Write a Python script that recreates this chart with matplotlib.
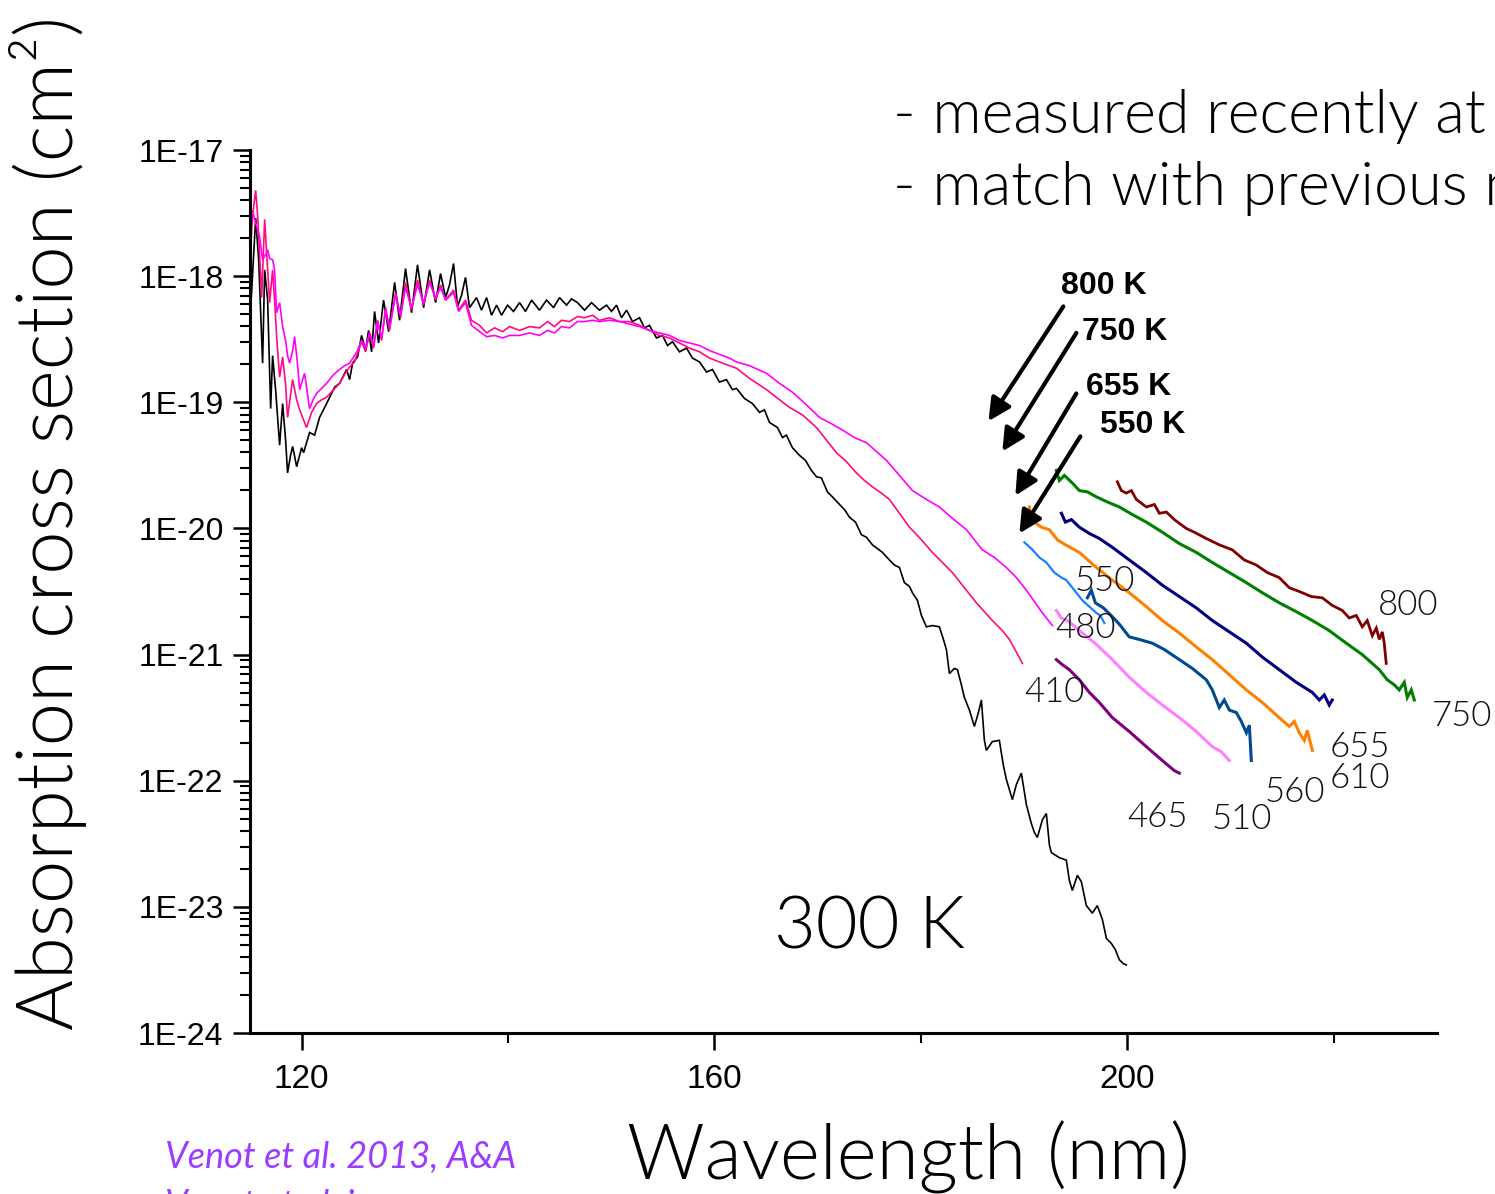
import numpy as np
import matplotlib
matplotlib.use('Agg')
import matplotlib.pyplot as plt
from matplotlib.ticker import LogLocator, FuncFormatter, NullFormatter

# (wavelength nm, log10 cross section cm^2) for each temperature
pts_300 = [(115.06,-18.27),(115.55,-17.54),(115.84,-17.87),(116.22,-18.69),(116.42,-17.95),(116.71,-18.19),
    (117.00,-19.05),(117.19,-18.63),(117.48,-18.90),(117.87,-19.34),(118.16,-19.01),(118.45,-19.30),(118.64,-19.56),
    (118.93,-19.42),(119.13,-19.35),(119.52,-19.51),(120.00,-19.36),(120.19,-19.40),(120.77,-19.24),(121.26,-19.26),
    (121.74,-19.12),(122.42,-19.01),(123.20,-18.88),(123.68,-18.85),(124.36,-18.74),(124.65,-18.82),(124.94,-18.69),
    (125.42,-18.64),(125.81,-18.47),(126.20,-18.59),(126.49,-18.43),(126.78,-18.60),(127.07,-18.28),(127.46,-18.53),
    (127.94,-18.19),(128.43,-18.44),(129.01,-18.05),(129.49,-18.35),(130.07,-17.94),(130.65,-18.29),(131.23,-17.91),
    (131.82,-18.25),(132.40,-17.95),(132.98,-18.21),(133.46,-17.98),(133.95,-18.17),(134.33,-18.07),(134.72,-17.90),
    (135.11,-18.24),(135.50,-18.15),(135.88,-18.01),(136.27,-18.25),(136.95,-18.17),(137.43,-18.27),(137.92,-18.17),
    (138.40,-18.31),(138.89,-18.23),(139.37,-18.31),(139.95,-18.23),(140.53,-18.28),(141.11,-18.21),(141.69,-18.28),
    (142.28,-18.19),(143.05,-18.27),(143.73,-18.19),(144.41,-18.25),(144.99,-18.17),(145.67,-18.23),(146.15,-18.18),
    (146.73,-18.21),(147.41,-18.27),(148.09,-18.21),(148.86,-18.27),(149.54,-18.23),(150.02,-18.28),(150.51,-18.23),
    (150.99,-18.33),(151.48,-18.27),(152.06,-18.36),(152.74,-18.33),(153.22,-18.41),(153.70,-18.39),(154.38,-18.49),
    (154.96,-18.47),(155.45,-18.55),(155.93,-18.52),(156.61,-18.60),(157.29,-18.57),(157.87,-18.65),(158.55,-18.68),
    (159.23,-18.76),(159.81,-18.74),(160.48,-18.84),(161.16,-18.82),(161.74,-18.90),(162.13,-18.89),(162.91,-18.97),
    (163.68,-19.01),(164.36,-19.08),(164.84,-19.06),(165.33,-19.16),(166.10,-19.20),(166.59,-19.28),(166.97,-19.26),
    (167.55,-19.36),(168.23,-19.42),(168.81,-19.46),(169.39,-19.54),(169.88,-19.59),(170.36,-19.60),(170.94,-19.71),
    (171.43,-19.75),(172.11,-19.81),(172.59,-19.85),(173.07,-19.91),(173.66,-19.95),(174.24,-20.05),(174.72,-20.07),
    (175.30,-20.13),(175.79,-20.16),(176.27,-20.19),(176.95,-20.25),(177.43,-20.29),(177.92,-20.31),(178.40,-20.43),
    (178.89,-20.46),(179.18,-20.51),(179.66,-20.57),(180.05,-20.69),(180.53,-20.78),(181.11,-20.77),(181.79,-20.78),
    (182.18,-20.88),(182.47,-20.96),(182.76,-21.15),(183.24,-21.11),(183.54,-21.12),(183.92,-21.24),(184.21,-21.34),
    (184.70,-21.44),(185.18,-21.57),(185.57,-21.46),(185.86,-21.36),(186.15,-21.68),(186.34,-21.76),(186.92,-21.69),
    (187.60,-21.68),(187.99,-21.88),(188.28,-21.99),(188.86,-22.15),(189.25,-22.03),(189.73,-21.94),(190.22,-22.19),
    (190.70,-22.34),(190.99,-22.41),(191.28,-22.45),(191.77,-22.31),(192.15,-22.26),(192.45,-22.51),(192.64,-22.57),
    (193.41,-22.61),(194.09,-22.63),(194.38,-22.79),(194.67,-22.87),(195.16,-22.75),(195.54,-22.80),(196.03,-22.99),
    (196.61,-23.05),(197.09,-22.99),(197.58,-23.10),(197.97,-23.25),(198.45,-23.29),(198.84,-23.34),(199.23,-23.42),
    (199.61,-23.45),(199.90,-23.46)]

pts_410 = [(115.06,-17.79),(115.25,-17.52),(115.55,-17.32),(115.74,-17.52),(115.93,-17.82),(116.13,-18.17),
    (116.42,-17.55),(116.71,-17.95),(116.90,-18.21),(117.19,-17.95),(117.38,-18.19),(117.58,-18.48),(117.87,-18.80),
    (118.16,-18.64),(118.45,-18.86),(118.64,-19.12),(118.93,-18.94),(119.13,-18.82),(119.52,-18.98),(119.81,-19.06),
    (120.19,-19.14),(120.48,-19.20),(120.97,-19.08),(121.45,-19.01),(121.94,-18.98),(122.42,-18.96),(123.10,-18.90),
    (123.68,-18.85),(124.16,-18.78),(124.65,-18.72),(125.13,-18.68),(125.42,-18.61),(125.81,-18.52),(126.20,-18.60),
    (126.59,-18.45),(126.97,-18.57),(127.36,-18.35),(127.75,-18.51),(128.14,-18.25),(128.52,-18.43),(129.10,-18.13),
    (129.59,-18.33),(130.07,-18.05),(130.65,-18.27),(131.23,-18.03),(131.82,-18.23),(132.40,-18.03),(132.98,-18.19),
    (133.46,-18.07),(133.95,-18.19),(134.72,-18.11),(135.21,-18.27),(135.88,-18.19),(136.46,-18.35),(137.24,-18.39),
    (137.92,-18.45),(138.69,-18.41),(139.47,-18.44),(140.15,-18.40),(141.11,-18.43),(142.08,-18.40),(143.05,-18.41),
    (143.83,-18.36),(144.50,-18.40),(145.18,-18.35),(145.96,-18.36),(146.73,-18.32),(147.41,-18.33),(148.18,-18.31),
    (148.86,-18.35),(149.83,-18.33),(150.80,-18.36),(151.77,-18.36),(152.74,-18.39),(153.70,-18.43),(154.67,-18.47),
    (155.64,-18.49),(156.61,-18.53),(157.58,-18.57),(158.55,-18.60),(159.52,-18.65),(160.48,-18.68),(161.45,-18.71),
    (162.13,-18.73),(163.39,-18.81),(165.04,-18.90),(166.30,-18.98),(167.26,-19.04),(168.52,-19.10),(169.88,-19.20),
    (170.85,-19.30),(171.82,-19.40),(172.78,-19.47),(173.75,-19.56),(174.53,-19.62),(175.30,-19.67),(176.17,-19.72),
    (176.95,-19.77),(177.92,-19.88),(178.89,-19.99),(180.05,-20.09),(181.11,-20.19),(182.08,-20.27),(183.05,-20.35),
    (184.21,-20.47),(185.38,-20.59),(186.15,-20.66),(186.92,-20.73),(187.89,-20.81),(188.57,-20.88),(189.25,-20.98),
    (189.83,-21.07)]

pts_480 = [(115.06,-17.52),(115.25,-17.48),(115.45,-17.55),(115.74,-17.63),(115.93,-17.69),(116.22,-17.87),
    (116.51,-17.83),(116.71,-17.79),(116.90,-17.86),(117.19,-17.87),(117.38,-17.95),(117.58,-18.29),(117.87,-18.21),
    (118.16,-18.40),(118.45,-18.51),(118.64,-18.63),(118.84,-18.69),(119.13,-18.59),(119.32,-18.48),(119.61,-18.70),
    (119.81,-18.90),(120.10,-18.82),(120.29,-18.77),(120.58,-18.94),(120.77,-19.05),(121.16,-18.97),(121.45,-18.93),
    (121.94,-18.89),(122.42,-18.85),(123.10,-18.78),(123.68,-18.74),(124.16,-18.71),(124.65,-18.69),(125.13,-18.63),
    (125.42,-18.59),(125.81,-18.51),(126.20,-18.57),(126.59,-18.45),(126.97,-18.55),(127.36,-18.36),(127.75,-18.49),
    (128.14,-18.27),(128.52,-18.41),(129.10,-18.15),(129.59,-18.31),(130.07,-18.09),(130.65,-18.25),(131.23,-18.07),
    (131.82,-18.21),(132.40,-18.05),(132.98,-18.17),(133.46,-18.09),(133.95,-18.19),(134.72,-18.13),(135.21,-18.28),
    (135.88,-18.21),(136.46,-18.39),(137.24,-18.44),(137.92,-18.48),(138.69,-18.47),(139.47,-18.49),(140.15,-18.47),
    (141.11,-18.47),(142.08,-18.45),(143.05,-18.47),(143.83,-18.43),(144.50,-18.45),(145.18,-18.40),(145.96,-18.41),
    (146.73,-18.36),(147.41,-18.36),(148.18,-18.35),(148.86,-18.36),(149.83,-18.35),(150.80,-18.36),(151.77,-18.38),
    (152.74,-18.40),(153.70,-18.43),(154.67,-18.45),(155.64,-18.47),(156.61,-18.51),(157.58,-18.53),(158.55,-18.55),
    (159.52,-18.59),(160.48,-18.62),(161.45,-18.65),(162.13,-18.68),(163.39,-18.71),(165.04,-18.77),(166.30,-18.85),
    (167.55,-18.92),(168.91,-19.02),(170.17,-19.12),(171.33,-19.17),(172.40,-19.22),(173.56,-19.28),(174.72,-19.32),
    (175.69,-19.39),(176.66,-19.46),(177.92,-19.58),(179.18,-19.70),(180.53,-19.77),(181.79,-19.83),(183.05,-19.92),
    (184.41,-20.01),(185.18,-20.09),(185.96,-20.17),(187.12,-20.23),(188.28,-20.31),(189.25,-20.39),(190.22,-20.49),
    (190.99,-20.58),(191.77,-20.67),(192.74,-20.77)]

pts_465 = [(193.12,-21.04),(193.70,-21.08),(194.38,-21.12),(195.35,-21.20),(196.32,-21.30),(197.29,-21.38),
    (198.55,-21.50),(200.19,-21.61),(201.84,-21.73),(203.39,-21.84),(204.55,-21.92),(205.04,-21.94)]

pts_510 = [(193.12,-20.65),(193.61,-20.71),(194.38,-20.74),(195.35,-20.81),(197.00,-20.92),(198.55,-21.04),
    (200.19,-21.18),(201.84,-21.30),(203.39,-21.40),(205.04,-21.50),(206.68,-21.61),(208.23,-21.73),(209.10,-21.77),
    (209.88,-21.84)]

pts_550 = [(190.02,-20.11),(190.70,-20.16),(191.48,-20.23),(192.15,-20.27),(192.93,-20.35),(193.61,-20.39),
    (194.09,-20.41),(194.87,-20.49),(195.64,-20.57),(196.32,-20.62),(197.00,-20.67),(197.38,-20.69),(197.77,-20.75)]

pts_560 = [(196.13,-20.55),(196.51,-20.49),(196.90,-20.59),(197.68,-20.63),(198.55,-20.70),(199.23,-20.76),
    (199.90,-20.83),(200.19,-20.86),(201.16,-20.88),(202.42,-20.91),(203.58,-20.96),(205.04,-21.04),(206.30,-21.11),
    (207.65,-21.20),(208.23,-21.28),(208.91,-21.42),(209.39,-21.36),(209.88,-21.44),(210.56,-21.46),(211.04,-21.53),
    (211.53,-21.62),(211.82,-21.56),(212.01,-21.84)]

pts_610 = [(190.51,-19.83),(190.61,-19.93),(190.99,-19.95),(191.67,-19.99),(192.45,-20.01),(193.22,-20.09),
    (194.00,-20.13),(195.35,-20.19),(197.00,-20.31),(198.55,-20.41),(200.19,-20.51),(201.84,-20.62),(203.39,-20.73),
    (205.04,-20.83),(206.68,-20.94),(208.23,-21.04),(209.88,-21.16),(211.53,-21.28),(213.08,-21.38),(214.72,-21.50),
    (215.69,-21.57),(216.17,-21.53),(216.66,-21.62),(217.14,-21.68),(217.43,-21.60),(217.92,-21.76)]

pts_655 = [(193.61,-19.88),(194.00,-19.95),(194.58,-19.93),(195.35,-19.99),(196.32,-20.04),(197.29,-20.08),
    (198.55,-20.15),(200.19,-20.25),(201.84,-20.35),(203.39,-20.45),(205.04,-20.54),(206.68,-20.63),(208.23,-20.73),
    (209.88,-20.82),(211.53,-20.91),(213.08,-21.02),(214.72,-21.12),(216.37,-21.22),(217.92,-21.30),(218.60,-21.36),
    (219.08,-21.32),(219.56,-21.40),(219.85,-21.36)]

pts_750 = [(193.12,-19.54),(193.41,-19.62),(193.90,-19.58),(194.67,-19.64),(195.35,-19.70),(196.13,-19.71),
    (197.00,-19.75),(198.06,-19.79),(199.23,-19.83),(200.48,-19.89),(201.84,-19.95),(203.39,-20.03),(205.04,-20.12),
    (206.68,-20.19),(208.23,-20.27),(209.88,-20.35),(211.53,-20.43),(213.08,-20.51),(214.72,-20.59),(216.37,-20.66),
    (217.92,-20.73),(219.56,-20.81),(221.21,-20.91),(222.76,-21.00),(224.41,-21.12),(225.18,-21.20),(225.86,-21.24),
    (226.34,-21.28),(226.83,-21.22),(227.12,-21.34),(227.51,-21.28),(227.80,-21.36)]

pts_800 = [(199.03,-19.63),(199.42,-19.70),(199.90,-19.72),(200.39,-19.70),(200.87,-19.77),(201.84,-19.83),
    (202.62,-19.81),(203.10,-19.88),(203.78,-19.87),(204.55,-19.93),(205.71,-20.00),(206.49,-20.03),(207.65,-20.08),
    (208.91,-20.13),(210.17,-20.17),(211.33,-20.25),(212.49,-20.29),(213.56,-20.35),(214.72,-20.39),(215.69,-20.47),
    (216.66,-20.50),(217.82,-20.54),(218.89,-20.55),(219.85,-20.61),(220.82,-20.65),(221.50,-20.71),(222.18,-20.69),
    (222.76,-20.78),(223.24,-20.73),(223.73,-20.85),(224.12,-20.79),(224.41,-20.88),(224.70,-20.82),(224.89,-20.91),
    (225.08,-21.07)]

# curve, colour, line width, temperature label and its (wavelength, log10 sigma) position
curves = [
    (pts_300, '#000000', 1.2, None, None),
    (pts_410, '#FF0A82', 1.2, '410', (192.93, -21.30)),
    (pts_480, '#FF00FF', 1.2, '480', (195.93, -20.79)),
    (pts_465, '#800080', 2.2, '465', (202.91, -22.29)),
    (pts_510, '#FF80FF', 2.2, '510', (211.04, -22.30)),
    (pts_550, '#1A80FF', 1.6, '550', (197.77, -20.42)),
    (pts_560, '#004A94', 2.2, '560', (216.27, -22.09)),
    (pts_610, '#FF8000', 2.2, '610', (222.57, -21.98)),
    (pts_655, '#000080', 2.2, '655', (222.57, -21.73)),
    (pts_750, '#008000', 2.2, '750', (232.45, -21.49)),
    (pts_800, '#800000', 2.0, '800', (227.21, -20.61)),
]

# hot-temperature arrows: label, label position, arrow tail, arrow tip (wavelength, log10 sigma)
arrows = [
    ('800 K', (193.61, -18.08), (193.80, -18.24), (186.54, -19.15)),
    ('750 K', (195.64, -18.44), (195.06, -18.45), (187.89, -19.39)),
    ('655 K', (196.03, -18.88), (195.06, -18.93), (189.15, -19.74)),
    ('550 K', (197.38, -19.18), (195.45, -19.27), (189.54, -20.04)),
]

LIGHT = dict(family=['Lato', 'DejaVu Sans'], weight=300)
ARIAL = ['Liberation Sans', 'DejaVu Sans']

fig = plt.figure(figsize=(14.95, 11.94), dpi=100)
ax = fig.add_axes([250 / 1495, 1 - 1033 / 1194, (1437 - 250) / 1495, (1033 - 150) / 1194])

for pts, color, lw, label, lpos in curves:
    wl, lg = np.array(pts).T
    ax.plot(wl, 10 ** lg, color=color, lw=lw, solid_joinstyle='miter')
    if label:
        ax.text(lpos[0], 10 ** lpos[1], label, ha='center', va='center',
                fontsize=25, color='#111111', clip_on=False, **LIGHT)

for label, lpos, tail, tip in arrows:
    ax.text(lpos[0], 10 ** lpos[1], label, ha='left', va='center', fontsize=23,
            fontweight='bold', family=ARIAL)
    ax.annotate('', xy=(tip[0], 10 ** tip[1]), xytext=(tail[0], 10 ** tail[1]),
                arrowprops=dict(arrowstyle='-|>', lw=3, color='black', mutation_scale=34,
                                shrinkA=0, shrinkB=0))

ax.text(175.0, 10 ** -23.17, '300 K', ha='center', va='center', fontsize=52, **LIGHT)

ax.set_yscale('log')
ax.set_xlim(115, 230)
ax.set_ylim(1e-24, 1e-17)
ax.set_xticks([120, 160, 200])
ax.set_xticks([140, 180, 220], minor=True)
ax.yaxis.set_major_locator(LogLocator(base=10, numticks=20))
ax.yaxis.set_minor_locator(LogLocator(base=10, subs=np.arange(2, 10), numticks=20))
ax.yaxis.set_major_formatter(FuncFormatter(lambda v, p: f"1E{int(round(np.log10(v)))}"))
ax.yaxis.set_minor_formatter(NullFormatter())

for side in ['top', 'right']:
    ax.spines[side].set_visible(False)
for side in ['left', 'bottom']:
    ax.spines[side].set_linewidth(2.2)

ax.tick_params(axis='both', which='major', direction='out', length=12, width=1.8)
ax.tick_params(axis='both', which='minor', direction='out', length=7, width=1.5)
ax.tick_params(axis='y', which='major', labelsize=23, pad=7)
ax.tick_params(axis='x', which='major', labelsize=24, pad=10)
for lab in ax.get_xticklabels() + ax.get_yticklabels():
    lab.set_family(ARIAL)

fig.text(48 / 1495, 1 - 1030 / 1194, 'Absorption cross section (cm²)', rotation=90,
         ha='center', va='bottom', fontsize=56, **LIGHT)
fig.text(627 / 1495, 1 - 1180 / 1194, 'Wavelength (nm)', ha='left', va='baseline',
         fontsize=55, **LIGHT)

fig.text(893 / 1495, 1 - 133 / 1194, '- measured recently at', ha='left', va='baseline',
         fontsize=44, **LIGHT)
fig.text(893 / 1495, 1 - 205 / 1194, '- match with previous measurements', ha='left',
         va='baseline', fontsize=44, **LIGHT)

fig.text(165 / 1495, 1 - 1168 / 1194, 'Venot et al. 2013, A&A', ha='left', va='baseline',
         fontsize=26, style='italic', color='#9B3DFF', family=['Lato', 'DejaVu Sans'])
fig.text(165 / 1495, 1 - 1216 / 1194, 'Venot et al. in prep.', ha='left', va='baseline',
         fontsize=26, style='italic', color='#9B3DFF', family=['Lato', 'DejaVu Sans'])

fig.savefig('out.png', dpi=100)
